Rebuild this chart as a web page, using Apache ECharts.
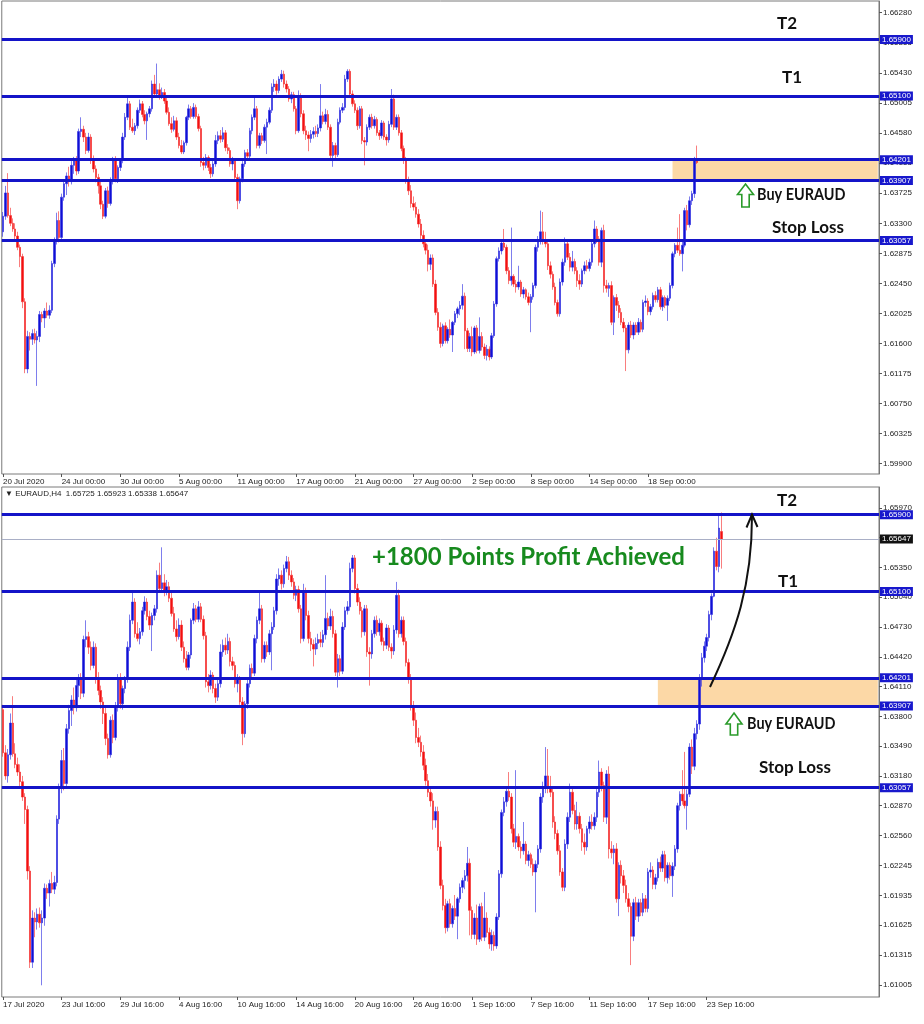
<!DOCTYPE html>
<html>
<head>
<meta charset="utf-8">
<title>EURAUD H4</title>
<script src="https://cdn.jsdelivr.net/npm/echarts@6/dist/echarts.min.js"></script>
<style>
  html, body { margin: 0; padding: 0; background: #ffffff; }
  #chart { width: 924px; height: 1024px; }
</style>
</head>
<body>
<div id="chart"></div>
<script>
// EURAUD H4 bars from 17 Jul 2020 16:00. Prices are kept in 0.0001 steps above 1.6000.
const PRICE_BASE = 1.6;

const barOpen = [
  387,342,318,340,373,341,330,322,312,296, 283,219,124,170,166,174,165,170,201,196,
  206,200,207,273,306,334,310,367,386,397, 389,412,419,404,460,463,452,433,452,419,
  407,395,383,357,340,376,358,390,419,393, 409,419,452,480,499,466,461,468,490,499,
  484,475,485,492,527,513,519,510,515,503, 487,471,463,475,452,440,431,444,480,492,
  481,494,481,464,416,412,423,409,400,414, 447,454,449,458,437,433,414,419,395,362,
  393,414,430,425,461,480,492,440,454,447, 466,473,490,523,527,518,534,541,527,520,
  506,512,492,461,510,485,461,455,450,456, 460,457,465,482,474,484,466,426,440,427,
  473,490,494,534,545,513,499,490,468,492, 447,445,466,480,468,477,458,454,472,452,
  448,470,506,466,480,458,436,419,391,376, 358,353,343,329,313,301,292,272,281,244,
  204,183,160,185,164,180,172,190,202,209, 214,227,178,153,170,148,182,150,170,155,
  143,152,141,171,216,280,291,302,296,263, 249,255,244,240,247,230,236,226,218,226,
  242,296,306,318,306,301,270,258,240,218, 202,247,275,301,282,268,276,263,249,244,
  263,270,266,275,301,322,308,275,320,242, 238,242,190,225,214,204,190,182,151,186,
  172,186,176,190,180,218,220,205,212,228, 222,236,212,225,214,224,242,287,299,292,
  287,299,348,328,362,372,420,441,453,462, 486,505,552,536,572.5
];
const barHigh = [
  392,350,346,383,401,352,337,330,318,300, 287,224,178,176,180,181,178,206,205,210,
  218,214,277,310,345,347,372,392,402,410, 418,424,425,464,480,468,458,458,456,426,
  412,400,390,362,380,382,395,424,425,412, 422,458,486,510,503,478,472,494,505,503,
  490,488,496,532,540,556,528,522,520,510, 494,480,482,480,458,448,447,482,498,496,
  500,498,485,468,424,428,426,414,418,455, 460,462,466,462,442,437,424,422,400,396,
  418,434,435,465,484,511,496,458,458,470, 478,494,528,534,532,538,547,546,532,524,
  516,516,496,518,514,490,468,460,462,466, 468,470,527,488,492,490,470,445,444,478,
  494,500,540,548,548,518,504,494,496,496, 452,470,484,485,482,480,462,476,475,456,
  475,520,512,484,484,462,440,424,396,384, 368,360,350,336,320,306,300,286,286,250,
  210,190,188,190,183,194,192,206,212,220, 244,232,182,175,184,185,186,197,176,160,
  158,156,175,220,283,296,306,322,300,268, 324,258,250,270,250,240,238,232,230,246,
  300,312,348,346,318,306,276,262,246,222, 252,280,310,306,288,291,280,268,258,266,
  276,278,280,306,334,326,312,324,328,250, 246,248,228,230,220,210,196,186,190,192,
  190,190,196,194,222,228,224,216,232,234, 240,240,228,228,228,246,290,302,324,343,
  304,352,356,368,376,424,446,458,466,490, 508,556,566,590,592.3
];
const barLow = [
  338,314,311,335,338,326,318,305,292,268, 210,118,118,150,158,160,100,162,190,182,
  196,195,203,268,300,303,305,362,370,382, 385,400,398,400,452,445,428,430,414,402,
  388,372,350,336,337,352,355,385,388,387, 404,415,448,476,462,458,455,464,486,480,
  470,448,480,488,510,510,505,506,499,484, 468,458,460,448,436,428,428,440,476,478,
  478,478,460,410,405,408,404,394,396,410, 442,444,445,432,428,410,405,392,350,358,
  388,410,420,422,456,476,436,436,442,444, 428,470,486,516,512,514,530,522,515,502,
  500,488,456,458,480,456,448,432,444,450, 452,452,460,470,470,462,422,410,422,424,
  470,486,490,530,508,495,486,462,464,442, 412,440,462,464,464,454,448,450,448,440,
  444,466,462,462,454,432,414,386,370,352, 348,338,324,308,296,286,262,264,240,200,
  178,154,156,160,160,168,148,186,196,200, 208,152,148,148,142,145,146,146,150,138,
  136,136,138,168,212,276,286,292,258,244, 242,240,232,236,226,224,222,214,176,222,
  238,290,300,300,296,264,252,236,214,198, 198,242,270,278,262,262,258,240,236,240,
  258,262,262,270,296,302,270,268,232,232, 226,186,172,206,196,186,176,121,146,168,
  166,172,172,176,176,212,200,200,208,218, 218,208,206,210,192,220,238,282,288,284,
  262,296,320,324,356,366,411,436,448,458, 480,504,532,530,533.8
];
const barClose = [
  342,318,340,373,341,330,322,312,296,283, 219,124,170,166,174,165,170,201,196,206,
  200,207,273,306,334,310,367,386,397,389, 412,419,404,460,463,452,433,452,419,407,
  395,383,357,340,376,358,390,419,393,409, 419,452,480,499,466,461,468,490,499,484,
  475,485,492,527,513,519,510,515,503,487, 471,463,475,452,440,431,444,480,492,481,
  494,481,464,416,412,423,409,400,414,447, 454,449,458,437,433,414,419,395,362,393,
  414,430,425,461,480,492,440,454,447,466, 473,490,523,527,518,534,541,527,520,506,
  512,492,461,510,485,461,455,450,456,460, 457,465,482,474,484,466,426,440,427,473,
  490,494,534,545,513,499,490,468,492,447, 445,466,480,468,477,458,454,472,452,448,
  470,506,466,480,458,436,419,391,376,358, 353,343,329,313,301,292,272,281,244,204,
  183,160,185,164,180,172,190,202,209,214, 227,178,153,170,148,182,150,170,155,143,
  152,141,171,216,280,291,302,296,263,249, 255,244,240,247,230,236,226,218,226,242,
  296,306,318,306,301,270,258,240,218,202, 247,275,301,282,268,276,263,249,244,263,
  270,266,275,301,322,308,275,320,242,238, 242,190,225,214,204,190,182,151,186,172,
  186,176,190,180,218,220,205,212,228,222, 236,212,225,214,224,242,287,299,292,287,
  299,348,328,362,372,420,441,453,462,486, 505,552,536,576,564.7
];

// The upper chart was saved earlier, while this bar was still forming: open, high, low, close
const upperLiveBar = [420, 440, 414, 416];
const UPPER_FIRST_BAR = 2;   // 20 Jul 00:00
const UPPER_LIVE_BAR = 286;  // bar that was open when the upper chart was saved

// Trade levels: T2, T1, buy zone top, buy zone bottom, stop loss
const keyLevels = [1.65900, 1.65100, 1.64201, 1.63907, 1.63057];
const buyZone = [1.63907, 1.64201];

const upperDateLabels = ['20 Jul 2020','24 Jul 00:00','30 Jul 00:00','5 Aug 00:00','11 Aug 00:00','17 Aug 00:00',
  '21 Aug 00:00','27 Aug 00:00','2 Sep 00:00','8 Sep 00:00','14 Sep 00:00','18 Sep 00:00'];
const lowerDateLabels = ['17 Jul 2020','23 Jul 16:00','29 Jul 16:00','4 Aug 16:00','10 Aug 16:00','14 Aug 16:00',
  '20 Aug 16:00','26 Aug 16:00','1 Sep 16:00','7 Sep 16:00','11 Sep 16:00','17 Sep 16:00','23 Sep 16:00'];
const upperPriceTicks = [1.66280,1.65855,1.65430,1.65005,1.64580,1.64155,1.63725,1.63300,1.62875,
  1.62450,1.62025,1.61600,1.61175,1.60750,1.60325,1.59900];
const lowerPriceTicks = [1.65970,1.65660,1.65350,1.65040,1.64730,1.64420,1.64110,1.63800,1.63490,
  1.63180,1.62870,1.62560,1.62245,1.61935,1.61625,1.61315,1.61005];

const BARS_PER_LABEL = 24;
const SLOT_COUNT = 359;   // bar slots across the chart width (right part left empty)
const upperZoneStart = 274;
const lowerZoneStart = 268;

const toPrice = v => +(PRICE_BASE + v / 10000).toFixed(5);
const candle = (o, h, l, c) => [toPrice(o), toPrice(c), toPrice(l), toPrice(h)];

const lowerBars = barOpen.map((o, i) => candle(o, barHigh[i], barLow[i], barClose[i]));
const upperBars = lowerBars.slice(UPPER_FIRST_BAR, UPPER_LIVE_BAR);
upperBars.push(candle(upperLiveBar[0], upperLiveBar[1], upperLiveBar[2], upperLiveBar[3]));

const last = barOpen.length - 1;
const lastClose = toPrice(barClose[last]);
const headerText = '\u25BC EURAUD,H4  ' + [barOpen[last], barHigh[last], barLow[last], barClose[last]]
  .map(v => toPrice(v).toFixed(5)).join(' ');

const slots = Array.from({ length: SLOT_COUNT }, (_, k) => String(k));

const AXIS_FONT = 'Liberation Sans, Arial, sans-serif';
const NOTE_FONT = 'Lato, "Open Sans", sans-serif';

function dateAxis(gridIndex, labels) {
  const shown = i => i % BARS_PER_LABEL === 0 && i / BARS_PER_LABEL < labels.length;
  return {
    type: 'category', gridIndex, data: slots, boundaryGap: true,
    axisLine: { show: false },
    axisTick: { show: true, alignWithLabel: true, interval: shown, length: 3,
      lineStyle: { color: '#555' } },
    axisLabel: { interval: shown, formatter: (v, i) => labels[i / BARS_PER_LABEL],
      align: 'left', margin: 4, fontSize: 8, color: '#222', fontFamily: AXIS_FONT },
    splitLine: { show: false }
  };
}

function priceAxis(gridIndex, min, max, ticks) {
  return {
    type: 'value', gridIndex, position: 'right', min, max,
    axisLine: { show: true, lineStyle: { color: '#777' } },
    axisTick: { show: true, length: 3, customValues: ticks, lineStyle: { color: '#555' } },
    axisLabel: { customValues: ticks, formatter: v => v.toFixed(5), fontSize: 8,
      color: '#222', margin: 4, fontFamily: AXIS_FONT },
    splitLine: { show: false }
  };
}

function priceTag(bg) {
  return { show: true, position: 'end', distance: 1, formatter: p => (+p.value).toFixed(5),
    color: '#fff', backgroundColor: bg, fontSize: 8, fontFamily: AXIS_FONT, padding: [1, 2, 0, 2] };
}

function levelLines(extra) {
  const data = keyLevels.map(v => ({ yAxis: v,
    lineStyle: { color: '#1414c8', width: 3, type: 'solid' }, label: priceTag('#1818cc') }));
  return { silent: true, precision: 5, symbol: ['none', 'none'], animation: false,
    data: data.concat(extra || []) };
}

const candleStyle = {
  color: '#1010d4', color0: '#f21010',
  borderColor: 'rgba(40,40,225,0.6)', borderColor0: 'rgba(245,40,40,0.6)', borderWidth: 1
};

function zoneSeries(axisIndex, startSlot) {
  return {
    type: 'line', xAxisIndex: axisIndex, yAxisIndex: axisIndex, data: [], z: 1, silent: true,
    markArea: { silent: true, precision: 5, itemStyle: { color: '#fcd8a6' },
      data: [[{ xAxis: startSlot, yAxis: buyZone[1] }, { xAxis: SLOT_COUNT - 1, yAxis: buyZone[0] }]] }
  };
}

function upArrow(tipX, tipY, w, headH, stemW, totalH) {
  const hw = w / 2, sw = stemW / 2;
  return [[tipX, tipY], [tipX + hw, tipY + headH], [tipX + sw, tipY + headH], [tipX + sw, tipY + totalH],
    [tipX - sw, tipY + totalH], [tipX - sw, tipY + headH], [tipX - hw, tipY + headH]];
}

function note(text, x, y, opts, squeeze) {
  const el = { type: 'text', z: 100, x, y, style: Object.assign({ text, x: 0, y: 0, fill: '#111',
    font: 'bold 17px ' + NOTE_FONT, verticalAlign: 'middle', align: 'left' }, opts || {}) };
  if (squeeze) el.scaleX = squeeze;
  return el;
}

const chart = echarts.init(document.getElementById('chart'), null, { renderer: 'canvas' });
chart.setOption({
  animation: false,
  backgroundColor: '#ffffff',
  grid: [
    { left: 1, right: 45, top: 1, height: 473, show: true, borderColor: '#7a7a7a', borderWidth: 1 },
    { left: 1, right: 45, top: 487, height: 510, show: true, borderColor: '#7a7a7a', borderWidth: 1 }
  ],
  xAxis: [dateAxis(0, upperDateLabels), dateAxis(1, lowerDateLabels)],
  yAxis: [
    priceAxis(0, 1.59754, 1.66445, upperPriceTicks),
    priceAxis(1, 1.60878, 1.66188, lowerPriceTicks)
  ],
  series: [
    zoneSeries(0, upperZoneStart),
    zoneSeries(1, lowerZoneStart),
    {
      name: 'EURAUD upper', type: 'candlestick', xAxisIndex: 0, yAxisIndex: 0, z: 3,
      barWidth: 2, data: upperBars, itemStyle: candleStyle, markLine: levelLines()
    },
    {
      name: 'EURAUD lower', type: 'candlestick', xAxisIndex: 1, yAxisIndex: 1, z: 3,
      barWidth: 2, data: lowerBars, itemStyle: candleStyle,
      markLine: levelLines([{ yAxis: lastClose, lineStyle: { color: '#a9afc6', width: 1, type: 'solid' },
        label: priceTag('#111111') }])
    }
  ],
  graphic: [
    note('T2', 777, 24),
    note('T1', 782, 78),
    note('Buy EURAUD', 757, 195, null, 0.85),
    note('Stop Loss', 772, 228),
    { type: 'polygon', z: 100, shape: { points: upArrow(745.5, 184, 16, 10.5, 7.4, 23) },
      style: { fill: '#ffffff', stroke: '#2a9b2a', lineWidth: 1.6 } },
    { type: 'text', z: 100, style: { text: headerText, x: 5, y: 494, fill: '#222',
      font: '8px ' + AXIS_FONT, verticalAlign: 'middle' } },
    note('T2', 777, 501),
    note('T1', 778, 582),
    note('+1800 Points Profit Achieved', 372, 557, { fill: '#178a1e', font: 'bold 24px ' + NOTE_FONT }),
    note('Buy EURAUD', 747, 724, null, 0.85),
    note('Stop Loss', 759, 768),
    { type: 'polygon', z: 100, shape: { points: upArrow(734, 713, 16, 11, 7.4, 22) },
      style: { fill: '#ffffff', stroke: '#2a9b2a', lineWidth: 1.6 } },
    { type: 'bezierCurve', z: 100, shape: { x1: 710, y1: 687, cpx1: 736, cpy1: 632, cpx2: 752, cpy2: 585, x2: 752, y2: 516 },
      style: { stroke: '#111', lineWidth: 2, fill: null } },
    { type: 'polyline', z: 100, shape: { points: [[746.5, 527.5], [752, 514.5], [757.5, 527]] },
      style: { stroke: '#111', lineWidth: 2, fill: null } }
  ]
});
</script>
</body>
</html>
